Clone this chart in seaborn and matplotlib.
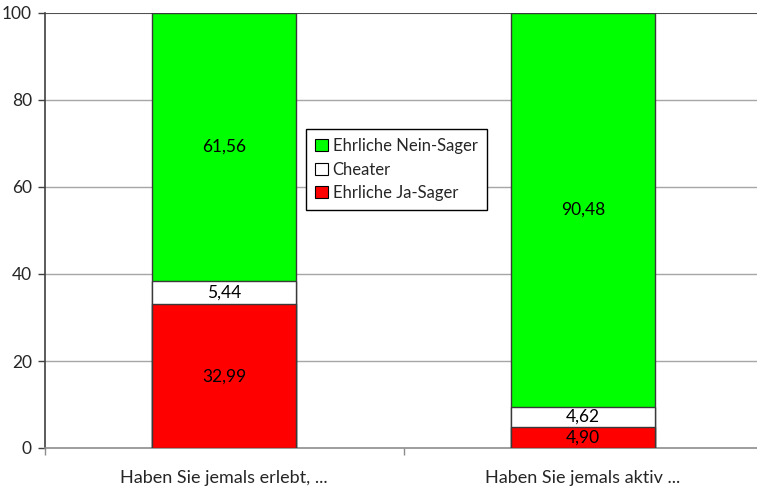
import matplotlib
matplotlib.use("Agg")
import matplotlib.pyplot as plt
import seaborn as sns
import pandas as pd
from matplotlib.patches import Patch

categories = ["Haben Sie jemals erlebt, ...", "Haben Sie jemals aktiv ..."]
ja_sager = [32.99, 4.90]
cheater = [5.44, 4.62]
nein_sager = [61.56, 90.48]
series_names = ["Ehrliche Nein-Sager", "Cheater", "Ehrliche Ja-Sager"]
y_ticks = [0, 20, 40, 60, 80, 100]

sns.set_theme(style="white")
plt.rcParams["font.family"] = ["Lato", "DejaVu Sans"]

df = pd.DataFrame({"Frage": categories, "ja": ja_sager, "cheat": cheater, "nein": nein_sager})
df["top_cheat"] = df["ja"] + df["cheat"]
df["top_nein"] = df["top_cheat"] + df["nein"]

fig = plt.figure(figsize=(7.57, 4.88), dpi=100)
ax = fig.add_axes([44.5 / 757, 40 / 488, 718 / 757, 435 / 488])

edge = "#3a3a3a"
# stacked bars drawn back-to-front: totals first, then lower segments on top
sns.barplot(data=df, x="Frage", y="top_nein", color="#00ff00", saturation=1, width=0.4,
            edgecolor=edge, linewidth=1.0, ax=ax, zorder=3)
sns.barplot(data=df, x="Frage", y="top_cheat", color="#ffffff", saturation=1, width=0.4,
            edgecolor=edge, linewidth=1.0, ax=ax, zorder=3)
sns.barplot(data=df, x="Frage", y="ja", color="#ff0000", saturation=1, width=0.4,
            edgecolor=edge, linewidth=1.0, ax=ax, zorder=3)

fmt = lambda v: f"{v:.2f}".replace(".", ",")
for i in range(len(categories)):
    segs = [(0, ja_sager[i]), (df["ja"][i], cheater[i]), (df["top_cheat"][i], nein_sager[i])]
    for base, val in segs:
        ax.text(i, base + val / 2, fmt(val), ha="center", va="center", fontsize=12.5,
                color="black", zorder=5)

ax.set_xlim(-0.5, 1.5)
ax.set_ylim(0, 100)
ax.set_yticks(y_ticks)
ax.set_yticklabels([str(t) for t in y_ticks], fontsize=12.5)
ax.set_xticks(range(len(categories)))
ax.set_xticklabels(categories, fontsize=13)
ax.tick_params(axis="x", which="major", length=0, pad=16)
ax.set_xticks([-0.5, 0.5, 1.5], minor=True)
ax.tick_params(axis="x", which="minor", length=5, color="#8c8c8c", width=1, direction="out", bottom=True)
ax.tick_params(axis="y", length=5, color="#404040", width=1, direction="out", left=True, pad=4)
ax.set_xlabel("")
ax.set_ylabel("")

for t in [20, 40, 60, 80]:
    ax.axhline(t, color="#a6a6a6", linewidth=1, zorder=1)
ax.axhline(100, color="#505050", linewidth=1.5, zorder=1)

for s in ["top", "right"]:
    ax.spines[s].set_visible(False)
ax.spines["left"].set_color("#404040")
ax.spines["left"].set_linewidth(1.2)
ax.spines["bottom"].set_color("#8c8c8c")
ax.spines["bottom"].set_linewidth(1.2)

handles = [Patch(facecolor="#00ff00", edgecolor="black", linewidth=0.8),
           Patch(facecolor="#ffffff", edgecolor="black", linewidth=0.8),
           Patch(facecolor="#ff0000", edgecolor="black", linewidth=0.8)]
leg = fig.legend(handles, series_names, loc="upper left", bbox_to_anchor=(306 / 757, 1 - 129 / 488),
                 frameon=True, fancybox=False, edgecolor="black", framealpha=1, fontsize=12,
                 handlelength=0.75, handleheight=0.75, handletextpad=0.3, borderpad=0.55,
                 labelspacing=0.45, borderaxespad=0)
leg.get_frame().set_linewidth(1.0)

fig.savefig("out.png", dpi=100)
